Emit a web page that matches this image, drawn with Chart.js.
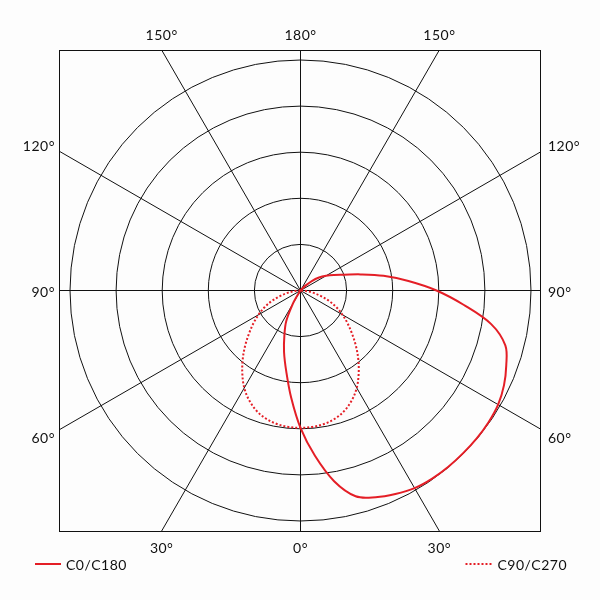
<!DOCTYPE html>
<html>
<head>
<meta charset="utf-8">
<script src="https://cdn.jsdelivr.net/npm/chart.js@4"></script>
<style>
  html, body { margin: 0; padding: 0; background: #fdfdfd; }
  #wrap { width: 600px; height: 600px; }
</style>
</head>
<body>
<div id="wrap"><canvas id="grafico-polar" width="600" height="600"></canvas></div>
<script>
// angles measured from nadir (0 deg = straight down), positive toward the C0 / C90 side
const anglesC0 = [-180, -40, -35, -32, -30, -25, -20, -15, -10, -5, 0, 5, 10, 15, 20, 25, 30, 35, 40, 45,
                  50, 55, 60, 65, 70, 75, 80, 85, 90, 95, 100, 105, 110, 115, 120, 125, 130, 134, 138, 180];
const valuesC0 = [0, 0, 0.02, 0.15, 0.33, 0.73, 1.02, 1.38, 1.78, 2.33, 2.98, 3.6, 4.2, 4.62, 4.77, 4.87, 4.95, 4.98, 4.99, 4.99,
                  4.99, 4.98, 4.95, 4.87, 4.75, 4.6, 4.2, 3.55, 2.95, 2.35, 1.83, 1.35, 1.0, 0.8, 0.64, 0.49, 0.32, 0.16, 0.02, 0];

const anglesC90 = [-90, -85, -80, -75, -70, -65, -60, -55, -50, -45, -40, -35, -30, -25, -20, -15, -10, -5, 0,
                   5, 10, 15, 20, 25, 30, 35, 40, 45, 50, 55, 60, 65, 70, 75, 80, 85, 90];
const valuesC90 = [0, 0.12, 0.27, 0.45, 0.66, 0.86, 1.05, 1.25, 1.46, 1.7, 1.95, 2.2, 2.44, 2.63, 2.78, 2.88, 2.94, 2.97, 2.98,
                   2.97, 2.94, 2.88, 2.78, 2.63, 2.44, 2.2, 1.95, 1.7, 1.46, 1.25, 1.05, 0.86, 0.66, 0.45, 0.27, 0.12, 0];

const rings = [1, 2, 3, 4, 5];
const spokeAngles = [0, 30, 60, 90, 120, 150, 180, 210, 240, 270, 300, 330];
const axisLimit = 5.217;

const seriesLabels = ['C0/C180', 'C90/C270'];
const red = '#e41e26';
const fontFamily = 'Lato, "Noto Sans", sans-serif';

function toXY(angles, values) {
    return angles.map((a, i) => {
        const rad = a * Math.PI / 180;
        return { x: values[i] * Math.sin(rad), y: -values[i] * Math.cos(rad) };
    });
}

const polarGrid = {
    id: 'polarGrid',
    beforeDatasetsDraw(chart) {
        const ctx = chart.ctx;
        const area = chart.chartArea;
        const xs = chart.scales.x, ys = chart.scales.y;
        const cx = xs.getPixelForValue(0), cy = ys.getPixelForValue(0);
        const unit = xs.getPixelForValue(1) - cx;
        ctx.save();
        ctx.strokeStyle = '#111';
        ctx.lineWidth = 1;
        ctx.beginPath();
        ctx.rect(area.left, area.top, area.right - area.left, area.bottom - area.top);
        ctx.clip();
        rings.forEach(r => {
            ctx.beginPath();
            ctx.arc(cx, cy, r * unit, 0, Math.PI * 2);
            ctx.stroke();
        });
        spokeAngles.forEach(a => {
            const rad = a * Math.PI / 180;
            ctx.beginPath();
            ctx.moveTo(cx, cy);
            ctx.lineTo(xs.getPixelForValue(20 * Math.sin(rad)), ys.getPixelForValue(-20 * Math.cos(rad)));
            ctx.stroke();
        });
        ctx.restore();
        ctx.save();
        ctx.strokeStyle = '#111';
        ctx.lineWidth = 1;
        ctx.strokeRect(area.left - 0.5, area.top + 0.5, area.right - area.left, area.bottom - area.top);
        ctx.restore();
    },
    afterDraw(chart) {
        const ctx = chart.ctx;
        const area = chart.chartArea;
        const xs = chart.scales.x, ys = chart.scales.y;
        const cx = xs.getPixelForValue(0), cy = ys.getPixelForValue(0);
        const halfW = (area.right - area.left) / 2, halfH = (area.bottom - area.top) / 2;
        ctx.save();
        ctx.fillStyle = '#111';
        ctx.font = '14px ' + fontFamily;
        ctx.letterSpacing = '0.5px';
        spokeAngles.forEach(a => {
            const rad = a * Math.PI / 180;
            const dx = Math.sin(rad), dy = Math.cos(rad);
            const label = (a <= 180 ? a : 360 - a) + '°';
            if (Math.abs(dx) * halfH > Math.abs(dy) * halfW + 1e-6) {
                // side edge
                const t = halfW / Math.abs(dx);
                let py = cy + dy * t;
                if (Math.abs(dy) > 1e-6) py += dy > 0 ? 7 : -7;
                ctx.textBaseline = 'middle';
                if (dx < 0) { ctx.textAlign = 'right'; ctx.fillText(label, area.left - 5, py + 2); }
                else { ctx.textAlign = 'left'; ctx.fillText(label, area.right + 7, py + 2); }
            } else {
                const t = halfH / Math.abs(dy);
                const px = cx + dx * t;
                ctx.textAlign = 'center';
                ctx.textBaseline = 'middle';
                if (dy < 0) ctx.fillText(label, px, area.top - 15);
                else ctx.fillText(label, px, area.bottom + 17);
            }
        });

        // legend: first series at the left, second at the right
        const ly = 564;
        const ds0 = chart.data.datasets[0], ds1 = chart.data.datasets[1];
        ctx.textAlign = 'left';
        ctx.textBaseline = 'middle';
        ctx.lineWidth = 2;
        ctx.strokeStyle = ds0.borderColor;
        ctx.beginPath(); ctx.moveTo(35, ly); ctx.lineTo(61, ly); ctx.stroke();
        ctx.fillText(ds0.label, 66, ly + 1);
        const w1 = ctx.measureText(ds1.label).width;
        const tx = 567 - w1;
        ctx.strokeStyle = ds1.borderColor;
        ctx.setLineDash(ds1.borderDash);
        ctx.beginPath(); ctx.moveTo(tx - 32, ly); ctx.lineTo(tx - 5, ly); ctx.stroke();
        ctx.setLineDash([]);
        ctx.fillText(ds1.label, tx, ly + 1);
        ctx.restore();
    }
};

const ctx = document.getElementById('grafico-polar').getContext('2d');
new Chart(ctx, {
    type: 'scatter',
    data: {
        datasets: [{
            label: seriesLabels[0],
            data: toXY(anglesC0, valuesC0),
            showLine: true,
            borderColor: red,
            borderWidth: 2,
            pointRadius: 0,
            tension: 0.35
        }, {
            label: seriesLabels[1],
            data: toXY(anglesC90, valuesC90),
            showLine: true,
            borderColor: red,
            borderWidth: 2,
            borderDash: [2, 2],
            pointRadius: 0,
            tension: 0.35
        }]
    },
    options: {
        responsive: false,
        animation: false,
        layout: { padding: { left: 60, right: 59, top: 50, bottom: 69 } },
        scales: {
            x: { display: false, min: -axisLimit, max: axisLimit },
            y: { display: false, min: -axisLimit, max: axisLimit }
        },
        plugins: {
            legend: { display: false },
            tooltip: { enabled: false }
        }
    },
    plugins: [polarGrid]
});
</script>
</body>
</html>
